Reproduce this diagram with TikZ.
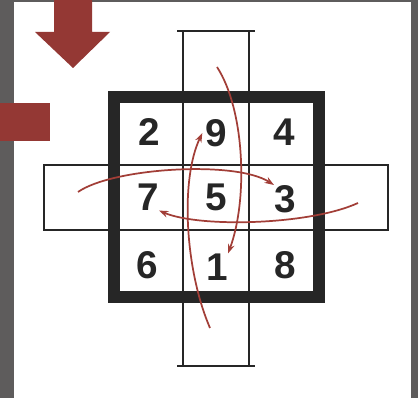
\documentclass[tikz,border=0pt]{standalone}
\usepackage{fontspec}
\setmainfont{Liberation Sans}
\usetikzlibrary{arrows.meta}
\definecolor{slate}{HTML}{5E5C5C}
\definecolor{brick}{HTML}{943834}
\definecolor{rust}{HTML}{A23E37}
\definecolor{ink}{HTML}{262626}

\begin{document}
\begin{tikzpicture}[x=0.75pt, y=-0.75pt,
  every node/.style={font=\fontsize{29}{29}\selectfont\bfseries, text=ink, inner sep=0pt},
  strip/.style={draw=ink, line width=1.6pt},
  frame/.style={draw=ink, line width=8.5pt},
  path/.style={draw=rust, line width=1.3pt, -{Stealth[length=7pt,width=5pt]}}]
\useasboundingbox (0,0) rectangle (418,398);
\fill[slate] (0,0) rectangle (418,398);
\fill[white] (14,2) rectangle (411,398);

% markers at the left
\fill[brick] (54,0) -- (92,0) -- (92,32) -- (110,32) -- (73,68) -- (35,32) -- (54,32) -- cycle;
\fill[brick] (0,103) rectangle (50,141);

% cross and frame
\draw[strip] (183,31) -- (183,366);
\draw[strip] (249,31) -- (249,366);
\draw[strip] (177,31) -- (255,31);
\draw[strip] (177,366) -- (255,366);
\draw[strip] (44,165) rectangle (388,230);
\draw[frame] (114,97) rectangle (319,297);

\foreach \d/\x/\y in {2/149/132,9/216/133,4/284/132,7/148/197,5/216/197,3/285/199,6/147/265,1/217/267,8/285/265} {
  \node (n\d) at (\x,\y) {\d};
}

\coordinate (wL) at (78,192);
\coordinate (wR) at (358,203);
\coordinate (wT) at (217,67);
\coordinate (wB) at (210,328);
\draw[path] (wL) .. controls (112,168) and (235,160) .. (n3.north west);
\draw[path] (wR) .. controls (310,225) and (200,228) .. (n7.south east);
\draw[path] (wT) .. controls (245,110) and (248,200) .. (n1.north east);
\draw[path] (wB) .. controls (185,270) and (180,180) .. ([xshift=-2pt]n9.west);
\end{tikzpicture}
\end{document}
